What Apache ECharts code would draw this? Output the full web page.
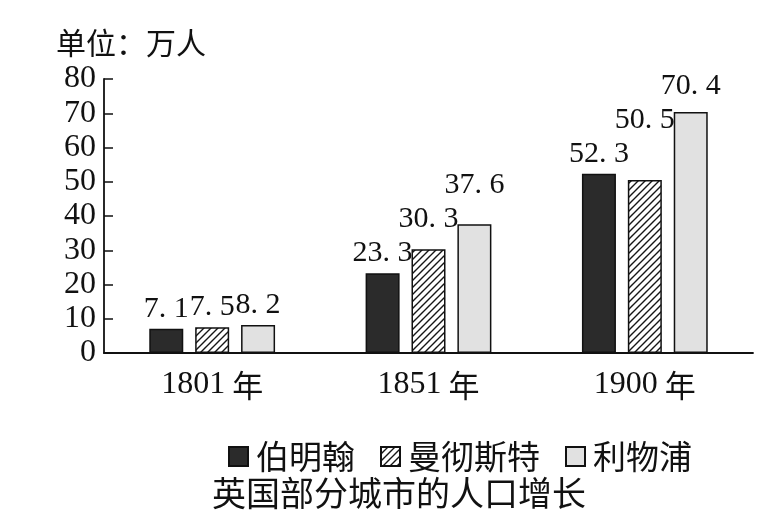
<!DOCTYPE html>
<html>
<head>
<meta charset="utf-8">
<script src="https://cdn.jsdelivr.net/npm/echarts@6/dist/echarts.min.js"></script>
<style>
    html, body { margin: 0; padding: 0; background: #fff; }
    #chart { width: 768px; height: 526px; }
</style>
</head>
<body>
<div id="chart"></div>
<script>
var categories = ['1801年', '1851年', '1900年'];
var birmingham = [7.1, 23.3, 52.3];
var manchester = [7.5, 30.3, 50.5];
var liverpool = [8.2, 37.6, 70.4];
var cityNames = ['伯明翰', '曼彻斯特', '利物浦'];

var serif = '"Liberation Serif", "Noto Sans CJK SC", serif';
var sans = '"Noto Sans CJK SC", sans-serif';

// diagonal hatch for the Manchester bars
function hatch() {
    var c = document.createElement('canvas');
    c.width = 7;
    c.height = 7;
    var ctx = c.getContext('2d');
    ctx.fillStyle = '#fff';
    ctx.fillRect(0, 0, 7, 7);
    ctx.strokeStyle = '#161616';
    ctx.lineWidth = 1.4;
    ctx.beginPath();
    ctx.moveTo(0, 7); ctx.lineTo(7, 0);
    ctx.moveTo(-1, 1); ctx.lineTo(1, -1);
    ctx.moveTo(6, 8); ctx.lineTo(8, 6);
    ctx.stroke();
    return c;
}

// lift a value label above the labels of the same year it would collide with
var placed = {};
function liftLabel(p) {
    if (p.seriesIndex === 0 && p.dataIndex === 0) placed = {};
    var r = {x: p.labelRect.x, y: p.labelRect.y, width: p.labelRect.width, height: p.labelRect.height};
    var others = placed[p.dataIndex] || (placed[p.dataIndex] = []);
    var dy = 0;
    others.forEach(function (o) {
        var xHit = r.x < o.x + o.width - 2 && o.x < r.x + r.width - 2;
        var yHit = r.y + dy < o.y + o.height && o.y < r.y + dy + r.height;
        if (xHit && yHit) dy = o.y - 4 - (r.y + r.height);
    });
    r.y += dy;
    others.push(r);
    return {dy: dy};
}

function bar(name, data, fill) {
    return {
        name: name,
        type: 'bar',
        data: data,
        barWidth: 34,
        barGap: '35%',
        itemStyle: {
            color: fill,
            borderColor: '#111',
            borderWidth: 1.5
        },
        label: {
            show: true,
            position: 'top',
            distance: 5,
            color: '#111',
            fontSize: 30,
            fontFamily: serif,
            formatter: function (p) {
                return p.value.toFixed(1).replace('.', '. ');
            }
        },
        labelLayout: liftLabel
    };
}

var chart = echarts.init(document.getElementById('chart'));
chart.setOption({
    backgroundColor: '#fff',
    animation: false,
    title: [
        {
            text: '英国部分城市的人口增长',
            left: 212,
            top: 476,
            padding: 0,
            textStyle: {fontSize: 34, fontWeight: 'normal', color: '#111', fontFamily: sans}
        },
        {
            text: '单位：万人',
            left: 56,
            top: 28,
            padding: 0,
            textStyle: {fontSize: 30, fontWeight: 'normal', color: '#111', fontFamily: sans}
        }
    ],
    legend: {
        data: cityNames,
        left: 223,
        top: 435,
        icon: 'rect',
        itemWidth: 19,
        itemHeight: 19,
        itemGap: 25,
        textStyle: {fontSize: 33, color: '#111', fontFamily: sans, padding: [0, 0, 0, 3]}
    },
    grid: {left: 104, right: 15, top: 79, bottom: 173},
    xAxis: {
        type: 'category',
        data: categories,
        axisLine: {lineStyle: {color: '#111', width: 1.8}},
        axisTick: {show: false},
        axisLabel: {
            color: '#111',
            margin: 16,
            formatter: function (v) {
                var m = v.match(/^(\d+)(.*)$/);
                return '{d|' + m[1] + '}{y|' + m[2] + '}';
            },
            rich: {
                d: {fontSize: 32, fontFamily: serif, color: '#111'},
                y: {fontSize: 31, fontFamily: sans, color: '#111', padding: [0, 0, 0, 7]}
            }
        }
    },
    yAxis: {
        type: 'value',
        min: 0,
        max: 80,
        interval: 10,
        splitLine: {show: false},
        axisLine: {show: true, lineStyle: {color: '#111', width: 1.8}},
        axisTick: {show: true, inside: true, length: 9, lineStyle: {color: '#111', width: 1.5}},
        axisLabel: {fontSize: 32, color: '#111', fontFamily: serif, margin: 8}
    },
    series: [
        bar(cityNames[0], birmingham, '#2b2b2b'),
        bar(cityNames[1], manchester, {image: hatch(), repeat: 'repeat'}),
        bar(cityNames[2], liverpool, '#e1e1e1')
    ]
});
</script>
</body>
</html>
